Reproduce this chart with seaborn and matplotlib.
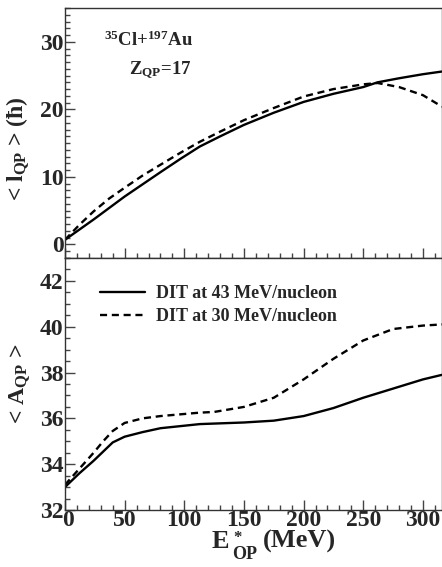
import matplotlib
matplotlib.use("Agg")
import matplotlib.pyplot as plt
import matplotlib.transforms as mtransforms
import seaborn as sns
import pandas as pd
from matplotlib.ticker import MultipleLocator

# ---- data ----
e_top_43 = [0, 12, 24, 37, 50, 65, 80, 97, 113, 130, 150, 175, 200, 225, 250, 262, 280, 300, 316]
l_top_43 = [0.7, 2.2, 3.7, 5.4, 7.1, 8.9, 10.7, 12.7, 14.5, 16.0, 17.7, 19.5, 21.1, 22.3, 23.3, 24.0, 24.6, 25.2, 25.6]
e_top_30 = [0, 12, 24, 37, 50, 65, 80, 97, 113, 130, 150, 175, 200, 225, 250, 262, 280, 300, 316]
l_top_30 = [0.7, 2.9, 4.9, 6.8, 8.4, 10.2, 11.8, 13.6, 15.2, 16.7, 18.4, 20.2, 21.9, 23.0, 23.7, 23.9, 23.3, 22.1, 20.4]

e_bot_43 = [0, 12, 24, 32, 40, 50, 65, 80, 113, 150, 175, 200, 225, 250, 275, 300, 316]
a_bot_43 = [33.0, 33.6, 34.15, 34.55, 34.95, 35.2, 35.4, 35.57, 35.75, 35.82, 35.9, 36.1, 36.45, 36.9, 37.3, 37.7, 37.9]
e_bot_30 = [0, 12, 24, 32, 40, 50, 65, 80, 113, 125, 150, 175, 200, 225, 250, 275, 300, 316]
a_bot_30 = [33.1, 33.8, 34.5, 35.0, 35.45, 35.8, 36.0, 36.1, 36.25, 36.28, 36.5, 36.9, 37.7, 38.6, 39.4, 39.9, 40.05, 40.1]

series_names = ["DIT at 43 MeV/nucleon", "DIT at 30 MeV/nucleon"]
x_ticks = [0, 50, 100, 150, 200, 250, 300]
top_yticks = [0, 10, 20, 30]
bot_yticks = [32, 34, 36, 38, 40, 42]

df_top = pd.DataFrame({
    "E": e_top_43 + e_top_30,
    "v": l_top_43 + l_top_30,
    "s": [series_names[0]] * len(e_top_43) + [series_names[1]] * len(e_top_30),
})
df_bot = pd.DataFrame({
    "E": e_bot_43 + e_bot_30,
    "v": a_bot_43 + a_bot_30,
    "s": [series_names[0]] * len(e_bot_43) + [series_names[1]] * len(e_bot_30),
})

sns.set_style("ticks")
plt.rcParams["font.family"] = ["Liberation Serif", "DejaVu Serif"]
plt.rcParams["font.weight"] = "bold"
plt.rcParams["mathtext.fontset"] = "custom"
plt.rcParams["mathtext.rm"] = "Liberation Serif:bold"
plt.rcParams["mathtext.bf"] = "Liberation Serif:bold"
plt.rcParams["mathtext.it"] = "Liberation Serif:bold:italic"
plt.rcParams["mathtext.default"] = "rm"

fig = plt.figure(figsize=(4.42, 5.67), dpi=100)
W, H = 442.0, 567.0
left = 65 / W
width = (442 - 65) / W
ax1 = fig.add_axes([left, 1 - 258 / H, width, 250 / H])
ax2 = fig.add_axes([left, 1 - 510 / H, width, 252 / H])

dash_map = {series_names[0]: "", series_names[1]: (3, 2)}
pal = {series_names[0]: "black", series_names[1]: "black"}

sns.lineplot(data=df_top, x="E", y="v", hue="s", style="s", dashes=dash_map,
             palette=pal, lw=1.7, ax=ax1, legend=False, sort=False)
sns.lineplot(data=df_bot, x="E", y="v", hue="s", style="s", dashes=dash_map,
             palette=pal, lw=1.7, ax=ax2, sort=False)

for ax in (ax1, ax2):
    ax.set_xlim(0, 316)
    ax.xaxis.set_major_locator(MultipleLocator(50))
    ax.xaxis.set_minor_locator(MultipleLocator(10))
    ax.tick_params(which="both", direction="in", top=False, right=False,
                   labelsize=17, width=1, color="#444444", pad=1)
    ax.tick_params(which="major", length=7)
    ax.tick_params(which="minor", length=3.5)
    for sp in ax.spines.values():
        sp.set_linewidth(1.0)
        sp.set_color("#333333")
    ax.set_xlabel("")
    ax.set_ylabel("")
    for lab in ax.get_xticklabels() + ax.get_yticklabels():
        lab.set_fontweight("bold")

ax1.set_ylim(-2, 35)
ax1.set_yticks(top_yticks)
ax1.yaxis.set_minor_locator(MultipleLocator(1))
ax1.tick_params(axis="x", labelbottom=False)

ax2.set_ylim(32, 43)
ax2.set_yticks(bot_yticks)
ax2.yaxis.set_minor_locator(MultipleLocator(0.5))
ax2.set_xticks(x_ticks)
ax2.tick_params(axis="x", pad=0)

# nudge the "0" x tick label slightly right so it does not collide with "32"
first_x = ax2.get_xticklabels()[0]
first_x.set_transform(first_x.get_transform() +
                      mtransforms.ScaledTranslation(3 / 100, 0, fig.dpi_scale_trans))

# y labels
fig.text(18 / W, 1 - 149 / H, "< l$_{QP}$ > (ħ)", rotation=90, ha="center", va="center",
         fontsize=17, fontweight="bold")
fig.text(20 / W, 1 - 384 / H, "< A$_{QP}$ >", rotation=90, ha="center", va="center",
         fontsize=17, fontweight="bold")

# x label, composed piecewise: E, superscript *, subscript OP, (MeV)
fig.text(212 / W, 1 - 548 / H, "E", ha="left", va="baseline", fontsize=19, fontweight="bold")
fig.text(233 / W, 1 - 530 / H, "*", ha="left", va="top", fontsize=12, fontweight="bold")
fig.text(232 / W, 1 - 559 / H, "OP", ha="left", va="baseline", fontsize=13, fontweight="bold")
fig.text(263 / W, 1 - 548 / H, "(MeV)", ha="left", va="baseline", fontsize=19, fontweight="bold")

ax1.text(148 / W, 1 - 40 / H, "$^{35}$Cl+$^{197}$Au", transform=fig.transFigure,
         ha="center", va="center", fontsize=13.5, fontweight="bold")
ax1.text(160 / W, 1 - 70 / H, "Z$_{QP}$=17", transform=fig.transFigure,
         ha="center", va="center", fontsize=13.5, fontweight="bold")

leg = ax2.legend(loc="upper left", bbox_to_anchor=((100 - 65) / 377, (510 - 285) / 252),
                 frameon=False, fontsize=13, handlelength=2.5, handletextpad=0.6,
                 borderpad=0, borderaxespad=0, labelspacing=0.35)
for t in leg.get_texts():
    t.set_fontweight("bold")
for h in leg.get_lines():
    h.set_linewidth(1.7)

fig.savefig("out.png", dpi=100)
